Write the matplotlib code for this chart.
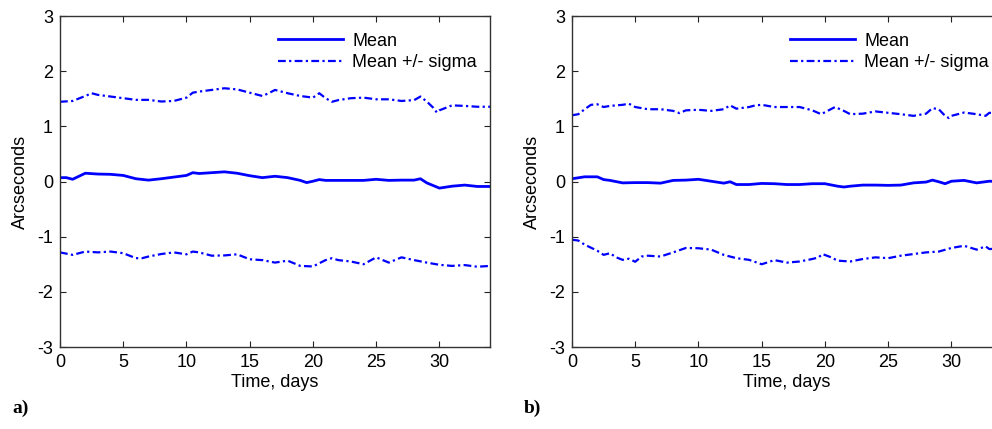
import matplotlib
matplotlib.use("Agg")
import matplotlib.pyplot as plt
import numpy as np

# --- data (days, arcseconds) ---
a_upper_t = [0, 1, 2, 2.5, 3, 4, 5, 6, 7, 8, 9, 10, 10.5, 11, 12, 13, 14, 15, 16, 16.5, 17,
             18, 19, 20, 20.5, 21, 21.5, 22, 23, 24, 25, 26, 27, 28, 28.5, 29, 29.5, 29.8,
             30, 31, 32, 33, 34]
a_upper = [1.445, 1.46, 1.55, 1.60, 1.57, 1.54, 1.51, 1.48, 1.48, 1.45, 1.46, 1.52, 1.61, 1.63,
           1.66, 1.69, 1.67, 1.61, 1.55, 1.60, 1.66, 1.60, 1.55, 1.52, 1.60, 1.51, 1.445, 1.475,
           1.51, 1.52, 1.49, 1.49, 1.46, 1.475, 1.54, 1.45, 1.34, 1.25, 1.29, 1.38, 1.37, 1.355,
           1.355]

a_mean_t = [0, 0.5, 1, 2, 3, 4, 5, 6, 7, 8, 9, 10, 10.5, 11, 12, 13, 14, 15, 16, 17, 18, 19,
            19.5, 20, 20.5, 21, 22, 23, 24, 25, 26, 27, 28, 28.5, 29, 30, 31, 32, 33, 34]
a_mean = [0.07, 0.07, 0.04, 0.15, 0.135, 0.13, 0.11, 0.05, 0.025, 0.05, 0.08, 0.11, 0.16, 0.145,
          0.16, 0.175, 0.15, 0.105, 0.07, 0.095, 0.07, 0.02, -0.02, 0.005, 0.035, 0.02, 0.02,
          0.02, 0.02, 0.04, 0.02, 0.025, 0.025, 0.05, -0.025, -0.12, -0.085, -0.065, -0.09, -0.09]

a_lower_t = [0, 1, 2, 3, 4, 5, 6, 6.5, 7, 8, 9, 10, 10.5, 11, 12, 13, 14, 15, 16, 17, 18, 19,
             20, 21, 21.5, 22, 23, 24, 25, 26, 27, 28, 29, 30, 31, 32, 33, 34]
a_lower = [-1.285, -1.33, -1.27, -1.285, -1.27, -1.30, -1.39, -1.39, -1.36, -1.315, -1.285,
           -1.32, -1.27, -1.285, -1.345, -1.34, -1.32, -1.41, -1.425, -1.47, -1.435, -1.53,
           -1.54, -1.425, -1.39, -1.425, -1.45, -1.50, -1.375, -1.47, -1.375, -1.425, -1.47,
           -1.51, -1.53, -1.515, -1.545, -1.53]

b_upper_t = [0, 0.5, 1, 1.5, 2, 2.5, 3, 4, 4.5, 5, 6, 7, 8, 8.5, 9, 10, 11, 12, 12.5, 13, 14,
             14.5, 15, 16, 17, 18, 19, 19.7, 20.8, 21.5, 22, 23, 24, 25, 26, 27, 28, 28.5, 29,
             29.5, 29.8, 30, 31, 32, 32.7, 33, 34]
b_upper = [1.20, 1.22, 1.31, 1.39, 1.40, 1.35, 1.37, 1.39, 1.41, 1.35, 1.31, 1.31, 1.28, 1.24,
           1.29, 1.30, 1.28, 1.31, 1.38, 1.32, 1.35, 1.38, 1.39, 1.35, 1.35, 1.35, 1.29, 1.22,
           1.35, 1.28, 1.22, 1.23, 1.27, 1.245, 1.22, 1.19, 1.23, 1.33, 1.31, 1.19, 1.15, 1.19,
           1.25, 1.22, 1.19, 1.245, 1.23]

b_mean_t = [0, 1, 2, 2.5, 3, 4, 5, 6, 7, 8, 9, 10, 11, 12, 12.5, 13, 14, 15, 16, 17, 18, 19,
            20, 21, 21.5, 22, 23, 24, 25, 26, 27, 28, 28.5, 29, 29.5, 30, 31, 32, 33, 34]
b_mean = [0.05, 0.085, 0.085, 0.035, 0.02, -0.025, -0.02, -0.02, -0.03, 0.02, 0.025, 0.04,
          0.005, -0.03, -0.005, -0.055, -0.055, -0.035, -0.04, -0.055, -0.055, -0.04, -0.04,
          -0.085, -0.10, -0.085, -0.065, -0.065, -0.07, -0.065, -0.025, -0.01, 0.025, -0.005,
          -0.04, 0.005, 0.02, -0.025, 0.005, 0.0]

b_lower_t = [0, 0.5, 1, 2, 2.5, 3, 3.5, 4, 4.5, 5, 5.5, 6, 7, 8, 9, 10, 11, 12, 13, 14, 15, 16,
             17, 18, 19, 19.5, 19.8, 20.5, 21, 22, 23, 24, 25, 26, 27, 28, 29, 30, 31, 32, 32.7,
             33, 34]
b_lower = [-1.055, -1.07, -1.145, -1.255, -1.33, -1.30, -1.375, -1.42, -1.40, -1.455, -1.36,
           -1.345, -1.36, -1.285, -1.205, -1.21, -1.235, -1.33, -1.39, -1.42, -1.50, -1.425,
           -1.47, -1.45, -1.405, -1.375, -1.315, -1.375, -1.435, -1.45, -1.405, -1.375, -1.39,
           -1.345, -1.315, -1.285, -1.27, -1.205, -1.165, -1.235, -1.175, -1.225, -1.21]

xticks = [0, 5, 10, 15, 20, 25, 30]
yticks = [-3, -2, -1, 0, 1, 2, 3]
blue = "#0000ff"
dashdot = (0, (3.5, 1.5, 1, 1.5))

plt.rcParams["font.family"] = ["Liberation Sans", "DejaVu Sans"]
plt.rcParams["font.size"] = 13
plt.rcParams["axes.unicode_minus"] = False

fig = plt.figure(figsize=(9.92, 4.29), dpi=100)
ax_a = fig.add_axes([60 / 992, 82 / 429, 430 / 992, 331 / 429])
ax_b = fig.add_axes([572 / 992, 82 / 429, 430 / 992, 331 / 429])

panels = [
    (ax_a, a_mean_t, a_mean, a_upper_t, a_upper, a_lower_t, a_lower, "a)", 12),
    (ax_b, b_mean_t, b_mean, b_upper_t, b_upper, b_lower_t, b_lower, "b)", 524),
]
for ax, mt, m, ut, u, lt, lo, tag, tag_x in panels:
    ax.plot(mt, m, color=blue, lw=2.0, label="Mean")
    ax.plot(ut, u, color=blue, lw=1.6, ls=dashdot, label="Mean +/- sigma")
    ax.plot(lt, lo, color=blue, lw=1.6, ls=dashdot)
    ax.set_xlim(0, 34)
    ax.set_ylim(-3, 3)
    ax.set_xticks(xticks)
    ax.set_yticks(yticks)
    ax.tick_params(direction="in", top=True, right=True, length=4, width=0.8,
                   colors="#222222", labelcolor="black", pad=5)
    for s in ax.spines.values():
        s.set_color("#333333")
        s.set_linewidth(1.0)
    ax.set_xlabel("Time, days", labelpad=2)
    ax.set_ylabel("Arcseconds", labelpad=6)
    ax.legend(loc="upper left", bbox_to_anchor=(0.507, 0.95), frameon=False,
              borderpad=0, borderaxespad=0, handlelength=3.6, handletextpad=0.5,
              labelspacing=0.25)
    fig.text(tag_x / 992, 1 - 408 / 429, tag, fontsize=14, fontweight="bold",
             family="Liberation Serif", va="center", ha="left")

fig.savefig("out.png", dpi=100)
